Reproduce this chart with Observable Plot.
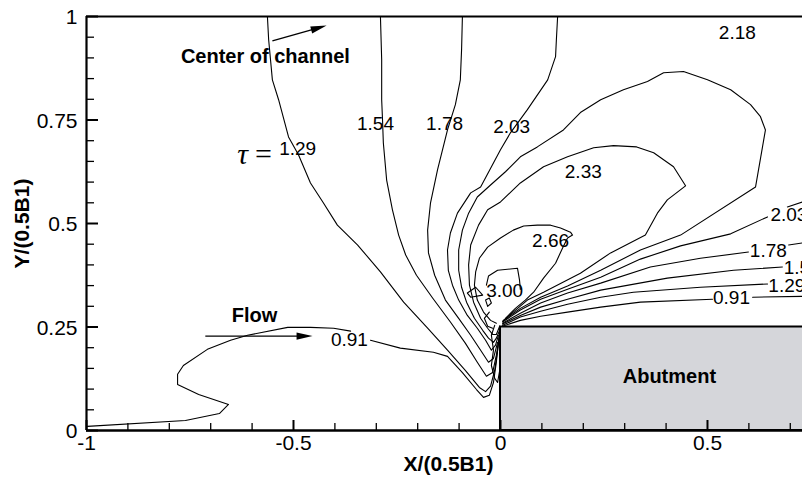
<!DOCTYPE html>
<html>
<head>
<meta charset="utf-8">
<script src="https://cdn.jsdelivr.net/npm/d3@7"></script>
<script src="https://cdn.jsdelivr.net/npm/@observablehq/plot@0.6"></script>
<style>
  html, body { margin: 0; padding: 0; background: white; overflow: hidden; }
  svg { overflow: hidden; }
</style>
</head>
<body>
<div id="chart"></div>
<script>
// ---- axis ticks ----
const xMajorTicks = [-1, -0.5, 0, 0.5];
const xMajorLabels = ["-1", "-0.5", "0", "0.5"];
const xMinorTicks = [-0.9, -0.8, -0.7, -0.6, -0.4, -0.3, -0.2, -0.1, 0.1, 0.2, 0.3, 0.4, 0.6, 0.7];
const yMajorTicks = [0, 0.25, 0.5, 0.75, 1];
const yMajorLabels = ["0", "0.25", "0.5", "0.75", "1"];
const yMinorTicks = [0.05, 0.1, 0.15, 0.2, 0.3, 0.35, 0.4, 0.45, 0.55, 0.6, 0.65, 0.7, 0.8, 0.85, 0.9, 0.95];

// ---- abutment ----
const abutmentX = [0, 0.75];
const abutmentY = [0, 0.25];

// ---- contour lines (X/(0.5B1), Y/(0.5B1)) ----
const c091_up1 = [[-0.998,0.010],[-0.761,0.024],[-0.679,0.041],[-0.657,0.063],[-0.729,0.087],[-0.780,0.111],[-0.780,0.136],[-0.766,0.157],[-0.708,0.196],[-0.652,0.218],[-0.611,0.230],[-0.514,0.249],[-0.459,0.249],[-0.403,0.247],[-0.362,0.240]];
const c091_up2 = [[-0.314,0.218],[-0.242,0.199],[-0.162,0.189],[-0.128,0.179],[-0.092,0.140],[-0.058,0.099],[-0.041,0.080],[-0.027,0.085],[-0.017,0.116],[-0.010,0.165],[-0.005,0.213],[0.000,0.247]];
const c091_dn1 = [[0.005,0.252],[0.048,0.266],[0.097,0.276],[0.162,0.286],[0.242,0.298],[0.338,0.310],[0.512,0.317]];
const c091_dn2 = [[0.609,0.322],[0.729,0.324]];
const c129_up = [[-0.563,1.000],[-0.560,0.944],[-0.551,0.847],[-0.536,0.799],[-0.512,0.709],[-0.488,0.666],[-0.459,0.598],[-0.428,0.550],[-0.394,0.496],[-0.345,0.448],[-0.290,0.383],[-0.234,0.310],[-0.176,0.247],[-0.128,0.194],[-0.085,0.145],[-0.051,0.104],[-0.036,0.094],[-0.024,0.107],[-0.014,0.145],[-0.007,0.194],[-0.002,0.235]];
const c129_dn = [[0.005,0.254],[0.048,0.274],[0.097,0.288],[0.162,0.305],[0.242,0.322],[0.321,0.334],[0.483,0.346],[0.645,0.354]];
const c154_up = [[-0.290,1.000],[-0.287,0.896],[-0.287,0.799],[-0.285,0.751],[-0.283,0.695],[-0.275,0.605],[-0.261,0.533],[-0.246,0.472],[-0.229,0.424],[-0.203,0.375],[-0.164,0.320],[-0.121,0.262],[-0.085,0.211],[-0.056,0.165],[-0.034,0.131],[-0.019,0.140],[-0.010,0.182],[-0.002,0.230]];
const c154_dn = [[0.005,0.257],[0.048,0.278],[0.097,0.298],[0.162,0.317],[0.242,0.339],[0.403,0.368],[0.563,0.387],[0.681,0.395]];
const c178_up = [[-0.092,1.000],[-0.094,0.920],[-0.097,0.847],[-0.109,0.787],[-0.128,0.726],[-0.152,0.630],[-0.169,0.550],[-0.176,0.484],[-0.174,0.429],[-0.159,0.375],[-0.133,0.315],[-0.101,0.271],[-0.072,0.230],[-0.048,0.194],[-0.029,0.165],[-0.017,0.174],[-0.007,0.213]];
const c178_dn1 = [[0.005,0.259],[0.048,0.283],[0.097,0.308],[0.162,0.332],[0.242,0.356],[0.362,0.395],[0.483,0.416],[0.599,0.431]];
const c178_dn2 = [[0.696,0.448],[0.729,0.453]];
const c203_up = [[0.138,1.000],[0.135,0.944],[0.133,0.903],[0.114,0.847],[0.065,0.775],[0.024,0.719],[0.000,0.678],[-0.048,0.588],[-0.072,0.574],[-0.104,0.525],[-0.121,0.477],[-0.128,0.436],[-0.126,0.387],[-0.116,0.351],[-0.101,0.315],[-0.080,0.278],[-0.056,0.247],[-0.036,0.218],[-0.022,0.194],[-0.012,0.206],[-0.005,0.230]];
const c203_dn1 = [[0.005,0.262],[0.048,0.291],[0.097,0.317],[0.162,0.341],[0.242,0.370],[0.338,0.414],[0.435,0.446],[0.556,0.475],[0.645,0.516]];
const c203_dn2 = [[0.693,0.540],[0.729,0.552]];
const c218_loop = [[0.005,0.264],[0.048,0.295],[0.097,0.322],[0.162,0.349],[0.242,0.387],[0.338,0.436],[0.435,0.472],[0.616,0.588],[0.640,0.726],[0.628,0.758],[0.604,0.787],[0.556,0.823],[0.500,0.847],[0.442,0.867],[0.394,0.864],[0.355,0.843],[0.297,0.823],[0.242,0.799],[0.193,0.768],[0.152,0.726],[0.089,0.685],[0.048,0.661],[0.012,0.625],[-0.024,0.593],[-0.056,0.564],[-0.077,0.525],[-0.092,0.484],[-0.101,0.436],[-0.101,0.387],[-0.094,0.346],[-0.082,0.310],[-0.063,0.271],[-0.043,0.242],[-0.029,0.223],[-0.017,0.213],[-0.010,0.223],[-0.002,0.242]];
const c233_loop = [[0.007,0.266],[0.065,0.315],[0.104,0.334],[0.193,0.380],[0.266,0.429],[0.350,0.472],[0.379,0.525],[0.403,0.557],[0.447,0.591],[0.418,0.637],[0.370,0.671],[0.329,0.685],[0.273,0.688],[0.225,0.683],[0.162,0.661],[0.104,0.637],[0.048,0.598],[0.000,0.552],[-0.031,0.533],[-0.053,0.496],[-0.072,0.448],[-0.077,0.400],[-0.075,0.351],[-0.065,0.310],[-0.048,0.271],[-0.031,0.247],[-0.019,0.232],[-0.010,0.232],[-0.002,0.252]];
const c266_loop = [[0.012,0.271],[0.036,0.295],[0.060,0.315],[0.080,0.334],[0.104,0.368],[0.133,0.404],[0.150,0.441],[0.162,0.465],[0.174,0.472],[0.169,0.479],[0.145,0.489],[0.121,0.496],[0.089,0.496],[0.056,0.494],[0.031,0.484],[0.000,0.465],[-0.031,0.443],[-0.051,0.416],[-0.060,0.383],[-0.063,0.351],[-0.056,0.315],[-0.041,0.286],[-0.024,0.266],[-0.010,0.259]];
const c300_loop = [[-0.034,0.351],[-0.029,0.373],[-0.007,0.387],[0.041,0.392],[0.046,0.363],[0.048,0.341]];
const sq1 = [[-0.080,0.332],[-0.060,0.346],[-0.043,0.327],[-0.072,0.322],[-0.080,0.332]];
const sq2 = [[-0.036,0.315],[-0.027,0.320],[-0.022,0.308],[-0.031,0.300],[-0.036,0.315]];
const sq3 = [[-0.014,0.254],[-0.022,0.230],[-0.017,0.194],[-0.022,0.157],[-0.014,0.126],[-0.007,0.116],[-0.002,0.145]];
const sq4 = [[-0.027,0.286],[-0.039,0.271],[-0.031,0.252],[-0.019,0.247]];

// ---- contour labels ----
const midLabelText = ["1.29","1.54","1.78","2.03","2.18","2.33","2.66","3.00","0.91","0.91","1.78"];
const midLabelX    = [-0.490,-0.302,-0.135,0.027,0.572,0.200,0.121,0.010,-0.365,0.558,0.647];
const midLabelY    = [0.680,0.741,0.741,0.734,0.961,0.625,0.458,0.337,0.218,0.320,0.433];
const edgeLabelText = ["2.03","1.54","1.29"];
const edgeLabelX    = [0.652,0.684,0.647];
const edgeLabelY    = [0.521,0.392,0.349];

// ---- annotations ----
const noteText = ["Center of channel","Flow","Abutment"];
const noteX = [-0.568,-0.594,0.408];
const noteY = [0.903,0.278,0.131];
const arrowX1 = [-0.551,-0.713];
const arrowY1 = [0.941,0.228];
const arrowX2 = [-0.420,-0.454];
const arrowY2 = [0.978,0.228];
const tauX = -0.599, tauY = 0.668;

// ---- build tables ----
const contours = {c091_up1,c091_up2,c091_dn1,c091_dn2,c129_up,c129_dn,c154_up,c154_dn,c178_up,c178_dn1,c178_dn2,c203_up,c203_dn1,c203_dn2,c218_loop,c233_loop,c266_loop,c300_loop,sq1,sq2,sq3,sq4};
const lineRows = [];
for (const [id, pts] of Object.entries(contours)) for (const [x, y] of pts) lineRows.push({id, x, y});
const midLabels = midLabelText.map((t, i) => ({t, x: midLabelX[i], y: midLabelY[i]}));
const edgeLabels = edgeLabelText.map((t, i) => ({t, x: edgeLabelX[i], y: edgeLabelY[i]}));
const notes = noteText.map((t, i) => ({t, x: noteX[i], y: noteY[i]}));
const arrows = arrowX1.map((_, i) => ({x1: arrowX1[i], y1: arrowY1[i], x2: arrowX2[i], y2: arrowY2[i]}));
const xTicks = xMajorTicks.map((v, i) => ({v, t: xMajorLabels[i]}));
const yTicks = yMajorTicks.map((v, i) => ({v, t: yMajorLabels[i]}));

const W = 802, H = 485, mL = 86, mR = 0, mT = 16, mB = 55;
const xDom = [-1, 0.7295];
const kx = (W - mL - mR) / (xDom[1] - xDom[0]);
const ky = (H - mT - mB) / 1;
const px2x = p => p / kx, px2y = p => p / ky;
const ang = d => Math.atan2((d.y2 - d.y1) * ky, (d.x2 - d.x1) * kx);

const headSymbol = {
  draw(ctx) { ctx.moveTo(0, 0); ctx.lineTo(-16, -3.6); ctx.lineTo(-16, 3.6); ctx.closePath(); }
};
const sans = "Liberation Sans, Arial, Helvetica, sans-serif";
const serif = "Liberation Serif, DejaVu Serif, serif";

const chart = Plot.plot({
  width: W, height: H,
  marginLeft: mL, marginRight: mR, marginTop: mT, marginBottom: mB,
  x: {domain: xDom, axis: null},
  y: {domain: [0, 1], axis: null},
  style: {fontFamily: sans, background: "white", color: "black"},
  marks: [
    Plot.rect([0], {x1: () => abutmentX[0], x2: () => abutmentX[1], y1: () => abutmentY[0], y2: () => abutmentY[1], fill: "#d5d6da", stroke: "black", strokeWidth: 2, clip: true}),
    Plot.line(lineRows, {x: "x", y: "y", z: "id", stroke: "black", strokeWidth: 1.1, clip: true}),
    Plot.text(midLabels, {x: "x", y: "y", text: "t", fontSize: 19, fill: "black"}),
    Plot.text(edgeLabels, {x: "x", y: "y", text: "t", fontSize: 19, textAnchor: "start", fill: "black"}),
    Plot.text(notes, {x: "x", y: "y", text: "t", fontSize: 20, fontWeight: "bold", fill: "black"}),
    Plot.text(["τ"], {x: () => tauX - px2x(10), y: () => tauY, text: d => d, fontSize: 30, fontStyle: "italic", fontFamily: serif, fill: "black"}),
    Plot.text(["="], {x: () => tauX + px2x(11), y: () => tauY, text: d => d, fontSize: 30, fontFamily: serif, fill: "black"}),
    Plot.link(arrows, {x1: "x1", y1: "y1", x2: d => d.x2 - px2x(14) * Math.cos(ang(d)), y2: d => d.y2 - px2y(14) * Math.sin(ang(d)), stroke: "black", strokeWidth: 1.3}),
    Plot.dot(arrows, {x: "x2", y: "y2", symbol: headSymbol, r: 4, fill: "black", stroke: null, rotate: d => -ang(d) * 180 / Math.PI}),
    // frame
    Plot.ruleX([xDom[0]], {stroke: "black", strokeWidth: 2.2}),
    Plot.ruleY([0], {stroke: "black", strokeWidth: 2.6}),
    Plot.ruleY([1], {stroke: "black", strokeWidth: 2.2}),
    // ticks (inward)
    Plot.ruleX(xMinorTicks, {y1: 0, y2: px2y(7), stroke: "black", strokeWidth: 1.3}),
    Plot.ruleX(xMajorTicks, {y1: 0, y2: px2y(10), stroke: "black", strokeWidth: 2}),
    Plot.ruleY(yMinorTicks, {x1: xDom[0], x2: xDom[0] + px2x(8), stroke: "black", strokeWidth: 1.3}),
    Plot.ruleY(yMajorTicks, {x1: xDom[0], x2: xDom[0] + px2x(12), stroke: "black", strokeWidth: 2}),
    // tick labels
    Plot.text(xTicks, {x: "v", y: () => 0, text: "t", dy: 13, fontSize: 21, fill: "black"}),
    Plot.text(yTicks, {x: () => xDom[0], y: "v", text: "t", dx: -9, dy: 1, textAnchor: "end", fontSize: 21, fill: "black"}),
    // axis titles
    Plot.text(["X/(0.5B1)"], {frameAnchor: "bottom", text: d => d, dx: 4, dy: 40, fontSize: 21, fontWeight: "bold", fill: "black"}),
    Plot.text(["Y/(0.5B1)"], {frameAnchor: "left", text: d => d, dx: -64, rotate: -90, textAnchor: "middle", fontSize: 21, fontWeight: "bold", fill: "black"})
  ]
});
document.getElementById("chart").appendChild(chart);
</script>
</body>
</html>
